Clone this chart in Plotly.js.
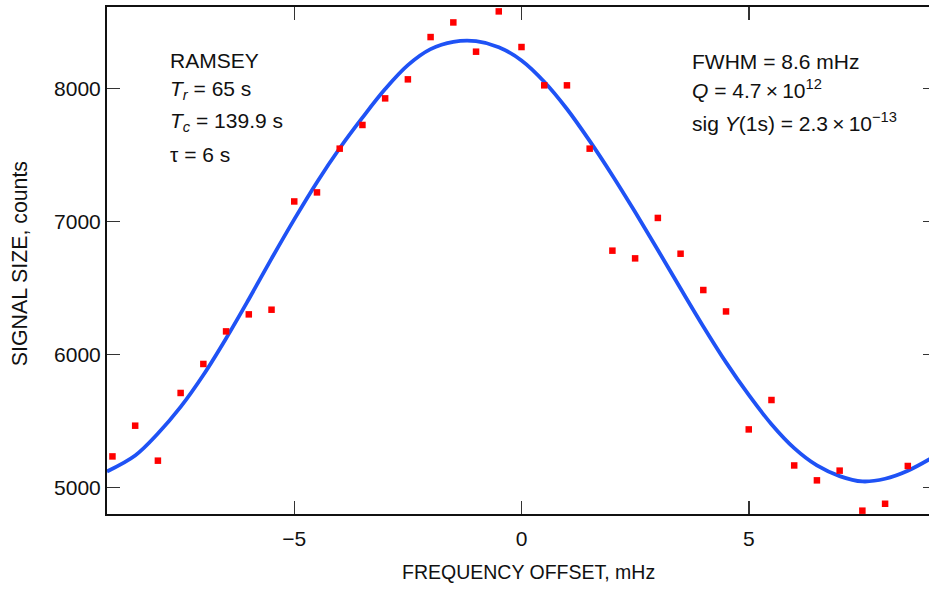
<!DOCTYPE html>
<html>
<head>
<meta charset="utf-8">
<script src="https://cdn.plot.ly/plotly-3.0.1.min.js"></script>
<style>
html,body{margin:0;padding:0;overflow:hidden;background:#fff;}
#chart{width:936px;height:589px;}
</style>
</head>
<body>
<div id="chart"></div>
<script>
// Measured data points (frequency offset in mHz, signal in counts)
const pointX = [-9, -8.5, -8, -7.5, -7, -6.5, -6, -5.5, -5, -4.5, -4, -3.5, -3, -2.5, -2, -1.5, -1, -0.5,
                0, 0.5, 1, 1.5, 2, 2.5, 3, 3.5, 4, 4.5, 5, 5.5, 6, 6.5, 7, 7.5, 8, 8.5];
const pointY = [5233, 5464, 5201, 5710, 5928, 6173, 6301, 6336, 7150, 7218, 7547, 7725, 7925, 8068, 8386, 8496, 8276, 8579,
                8311, 8023, 8023, 7547, 6780, 6722, 7026, 6757, 6484, 6323, 5436, 5657, 5165, 5053, 5126, 4825, 4877, 5161];

// Fitted curve
const curveX = [-9.12, -8.5, -8, -7.5, -7, -6.5, -6, -5.5, -5, -4.5, -4, -3.5, -3, -2.5, -2, -1.5, -1, -0.5,
                0, 0.5, 1, 1.5, 2, 2.5, 3, 3.5, 4, 4.5, 5, 5.5, 6, 6.5, 7, 7.5, 8, 8.5, 9.12];
const curveY = [5120, 5240, 5405, 5605, 5845, 6120, 6415, 6720, 7015, 7295, 7550, 7780, 7995, 8175, 8295, 8350, 8355, 8310,
                8210, 8050, 7845, 7605, 7345, 7070, 6785, 6495, 6210, 5940, 5695, 5475, 5295, 5165, 5085, 5045, 5065, 5125, 5240];

const xTicks = [-5, 0, 5];
const xTickText = ['\u22125', '0', '5'];
const yTicks = [5000, 6000, 7000, 8000];
const yTickText = ['5000', '6000', '7000', '8000'];

const xTitle = 'FREQUENCY OFFSET, mHz';
const yTitle = 'SIGNAL SIZE, counts';

const leftNotes = ['RAMSEY', '<i>T</i><sub><i>r</i></sub> = 65 s', '<i>T</i><sub><i>c</i></sub> = 139.9 s', '\u03c4 = 6 s'];
const leftNoteY = [8208, 7990, 7745, 7500];
const rightNotes = ['FWHM = 8.6 mHz', '<i>Q</i> = 4.7\u2009\u00d7\u200910<sup>12</sup>', 'sig <i>Y</i>(1s) = 2.3\u2009\u00d7\u200910<sup>\u221213</sup>'];
const rightNoteY = [8200, 7995, 7750];

const fam = 'Liberation Sans, Arial, sans-serif';
const font = {family: fam, size: 21, color: '#111'};

const annotations = [];
leftNotes.forEach((t, i) => annotations.push({
  xref: 'x', yref: 'y', x: -7.77, y: leftNoteY[i], text: t, showarrow: false,
  xanchor: 'left', yanchor: 'middle', font: font
}));
rightNotes.forEach((t, i) => annotations.push({
  xref: 'x', yref: 'y', x: 3.70, y: rightNoteY[i], text: t, showarrow: false,
  xanchor: 'left', yanchor: 'middle', font: font
}));
// axis titles
annotations.push({
  xref: 'paper', yref: 'paper', x: 0.509, y: -0.1148, text: xTitle, showarrow: false,
  xanchor: 'center', yanchor: 'middle', font: {family: fam, size: 19.5, color: '#111'}
});
annotations.push({
  xref: 'paper', yref: 'paper', x: -0.105, y: 0.4947, text: yTitle, showarrow: false, textangle: -90,
  xanchor: 'center', yanchor: 'middle', font: {family: fam, size: 21.3, color: '#111'}
});

const traces = [
  {x: curveX, y: curveY, mode: 'lines', type: 'scatter',
   line: {color: '#1f52f5', width: 3.8, shape: 'spline', smoothing: 1}, hoverinfo: 'skip'},
  {x: pointX, y: pointY, mode: 'markers', type: 'scatter',
   marker: {color: '#ff0000', symbol: 'square', size: 6.5, line: {width: 0}}}
];

const axisCommon = {
  showline: true, linecolor: '#111', linewidth: 2, mirror: 'ticks',
  ticks: 'inside', ticklen: 13, tickwidth: 1.5, tickcolor: '#333',
  showgrid: false, zeroline: false, tickfont: font
};

const layout = {
  width: 936, height: 589,
  margin: {l: 107, r: 0, t: 7, b: 75},
  paper_bgcolor: '#fff', plot_bgcolor: '#fff',
  showlegend: false,
  font: font,
  xaxis: Object.assign({}, axisCommon, {
    range: [-9.12, 9.12], tickvals: xTicks, ticktext: xTickText, ticklabelstandoff: 5
  }),
  yaxis: Object.assign({}, axisCommon, {
    range: [4800, 8612], tickvals: yTicks, ticktext: yTickText
  }),
  annotations: annotations
};

Plotly.newPlot('chart', traces, layout, {displayModeBar: false, staticPlot: true});
</script>
</body>
</html>
